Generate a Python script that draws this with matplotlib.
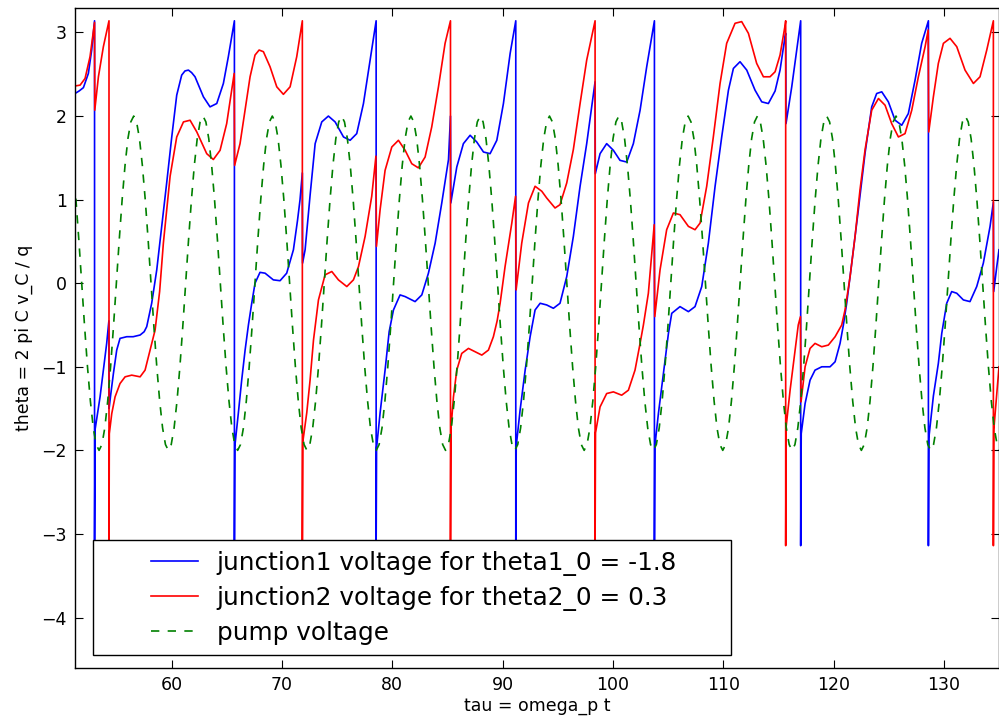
import numpy as np
import matplotlib
matplotlib.use("Agg")
import matplotlib.pyplot as plt
from matplotlib.legend_handler import HandlerLine2D

# junction 1 phase (wrapped to [-pi, pi])
tau1 = [51.23, 51.6, 51.99, 52.44, 52.74, 53.0, 53.0,
        53.05, 53.5, 53.8, 54.1, 54.3,
        54.32, 54.45, 54.71, 55.01, 55.31, 55.92, 56.5, 57.13, 57.5, 57.73, 58.18, 58.64,
        59.09, 59.54, 60.0, 60.45, 60.9, 61.2, 61.51, 61.8, 62.11, 62.87, 63.47, 64.08, 64.68, 65.13,
        65.68, 65.68,
        65.72, 66.04, 66.34, 66.65, 66.95, 67.25, 67.55, 68.0, 68.46, 69.21, 69.82, 70.42,
        71.03, 71.4, 71.63, 71.84,
        71.86, 72.09, 72.54, 73.0, 73.6, 74.2, 74.81, 75.57, 76.17, 76.77, 77.38, 77.98,
        78.53, 78.53,
        78.57, 78.89, 79.34, 79.71, 80.1, 80.7, 81.16, 82.06, 82.67, 83.27, 83.88, 84.48,
        85.09, 85.27,
        85.3, 85.84, 86.44, 87.05, 87.65, 88.26, 88.86, 89.47, 90.07, 90.68, 91.19, 91.19,
        91.23, 91.58, 92.04, 92.49, 92.94, 93.4, 93.99, 94.6, 95.2, 95.81, 96.41, 97.02,
        97.62, 98.23, 98.38,
        98.4, 98.83, 99.43, 100.04, 100.64, 101.25, 101.85, 102.46, 103.06, 103.76, 103.76,
        103.8, 104.12, 104.57, 105.03, 105.33, 106.08, 106.84, 107.44, 108.05, 108.65,
        109.26, 109.86, 110.47, 110.92, 111.52, 112.13, 112.88, 113.49, 114.09, 114.7,
        115.15, 115.6, 115.66,
        115.69, 116.21, 116.66, 117.02, 117.02,
        117.07, 117.42, 117.87, 118.32, 118.93, 119.68, 120.14, 120.59, 120.89, 121.19,
        121.65, 122.25, 122.86, 123.46, 123.91, 124.37, 124.97, 125.58, 126.18, 126.78,
        127.39, 127.99, 128.6, 128.6,
        128.64, 129.05, 129.5, 129.81, 130.26, 130.71, 131.17, 131.77, 132.37, 132.98,
        133.58, 134.19, 134.49,
        134.52, 134.8, 135.0]
theta1 = [2.27, 2.30, 2.34, 2.51, 2.79, 3.14, -3.14,
          -1.75, -1.36, -1.04, -0.72, -0.45,
          -1.5, -1.35, -1.08, -0.80, -0.66, -0.64, -0.64, -0.62, -0.58, -0.52, -0.24, 0.16,
          0.68, 1.20, 1.75, 2.25, 2.49, 2.54, 2.55, 2.52, 2.47, 2.23, 2.11, 2.15, 2.39, 2.71,
          3.14, -3.14,
          -1.95, -1.55, -1.16, -0.80, -0.50, -0.24, 0.0, 0.13, 0.12, 0.04, 0.03, 0.12,
          0.40, 0.75, 1.0, 1.32,
          0.24, 0.4, 1.05, 1.67, 1.93, 2.0, 1.93, 1.75, 1.71, 1.79, 2.15, 2.67,
          3.14, -3.14,
          -1.97, -1.55, -1.04, -0.58, -0.32, -0.14, -0.16, -0.22, -0.14, 0.12, 0.48, 0.96,
          1.48, 2.0,
          0.96, 1.39, 1.67, 1.77, 1.69, 1.57, 1.55, 1.71, 2.15, 2.75, 3.14, -3.14,
          -1.95, -1.52, -1.04, -0.64, -0.32, -0.24, -0.26, -0.30, -0.24, 0.08, 0.56, 1.16,
          1.67, 2.27, 2.41,
          1.31, 1.55, 1.67, 1.59, 1.47, 1.45, 1.67, 2.07, 2.59, 3.14, -3.14,
          -1.95, -1.56, -1.08, -0.6, -0.36, -0.28, -0.34, -0.28, -0.04, 0.48,
          1.16, 1.75, 2.31, 2.57, 2.65, 2.55, 2.31, 2.17, 2.15, 2.30,
          2.55, 2.95, 2.99,
          1.91, 2.35, 2.79, 3.14, -3.14,
          -1.8, -1.44, -1.16, -1.04, -1.0, -1.0, -0.94, -0.72, -0.5, -0.24,
          0.24, 0.88, 1.56, 2.11, 2.27, 2.29, 2.17, 1.95, 1.89, 2.03,
          2.43, 2.87, 3.14, -3.14,
          -1.85, -1.35, -0.96, -0.6, -0.24, -0.1, -0.12, -0.2, -0.22, -0.04,
          0.24, 0.68, 0.97,
          -0.1, 0.2, 0.4]

# junction 2 phase
tau2 = [51.23, 51.69, 52.14, 52.59, 52.96, 53.0,
        53.02, 53.35, 53.8, 54.31, 54.31,
        54.34, 54.56, 54.86, 55.31, 55.77, 56.37, 57.13, 57.58, 58.03, 58.49, 58.9, 59.24,
        59.85, 60.45, 61.06, 61.66, 62.27, 63.17, 63.77, 64.38, 64.98, 65.59, 65.66,
        65.70, 66.19, 66.65, 67.1, 67.55, 67.92, 68.31, 68.91, 69.52, 70.12, 70.73, 71.33,
        71.84, 71.84,
        71.88, 72.24, 72.54, 72.85, 73.3, 73.9, 74.51, 75.11, 75.87, 76.47, 76.93, 77.53,
        78.13, 78.51,
        78.56, 78.89, 79.34, 79.95, 80.55, 81.16, 81.76, 82.36, 82.97, 83.57, 84.18, 84.78,
        85.27, 85.27,
        85.31, 85.54, 85.84, 86.29, 86.9, 87.5, 88.11, 88.71, 89.16, 89.5, 89.77, 90.22,
        90.83, 91.17,
        91.22, 91.73, 92.34, 92.94, 93.55, 93.99, 94.75, 95.2, 95.81, 96.41, 97.02, 97.62,
        98.23, 98.38, 98.38,
        98.42, 98.83, 99.43, 100.04, 100.79, 101.4, 102.0, 102.46, 102.76, 103.21, 103.74,
        103.79, 104.27, 104.87, 105.48, 106.08, 106.84, 107.44, 107.9, 108.5, 109.1,
        109.71, 110.31, 111.07, 111.67, 112.28, 113.03, 113.64, 114.24, 114.7, 115.15,
        115.6, 115.66, 115.66,
        115.7, 116.06, 116.51, 116.8, 117.0,
        117.05, 117.42, 117.87, 118.32, 118.93, 119.53, 120.14, 120.74, 121.04, 121.5,
        121.95, 122.4, 122.86, 123.46, 124.07, 124.67, 125.27, 125.88, 126.48, 127.09,
        127.69, 128.3, 128.58,
        128.63, 129.05, 129.5, 129.96, 130.56, 131.17, 131.92, 132.68, 133.28, 133.89,
        134.49, 134.49,
        134.53, 135.0]
theta2 = [2.36, 2.37, 2.45, 2.71, 3.08, 3.12,
          2.07, 2.47, 2.83, 3.14, -3.14,
          -1.80, -1.56, -1.36, -1.20, -1.12, -1.10, -1.12, -1.04, -0.80, -0.56, -0.1, 0.48,
          1.28, 1.75, 1.93, 1.95, 1.81, 1.55, 1.48, 1.59, 1.91, 2.45, 2.51,
          1.41, 1.67, 2.07, 2.47, 2.73, 2.79, 2.77, 2.59, 2.35, 2.26, 2.35, 2.71,
          3.14, -3.14,
          -1.9, -1.55, -1.16, -0.68, -0.20, 0.10, 0.14, 0.04, -0.04, 0.04, 0.20, 0.56,
          1.04, 1.52,
          0.44, 0.88, 1.35, 1.63, 1.71, 1.59, 1.43, 1.38, 1.51, 1.87, 2.35, 2.87,
          3.14, -3.14,
          -1.75, -1.36, -1.04, -0.84, -0.78, -0.82, -0.86, -0.80, -0.64, -0.45, -0.24, 0.20,
          0.72, 1.04,
          -0.08, 0.48, 0.96, 1.16, 1.10, 1.02, 0.90, 0.94, 1.2, 1.6, 2.15, 2.67,
          3.05, 3.14, -3.14,
          -1.79, -1.48, -1.32, -1.30, -1.34, -1.28, -1.04, -0.72, -0.5, -0.12, 0.70,
          -0.40, 0.16, 0.64, 0.84, 0.82, 0.68, 0.64, 0.72, 1.16, 1.75,
          2.39, 2.87, 3.11, 3.13, 2.99, 2.63, 2.47, 2.47, 2.53, 2.73,
          3.08, 3.14, -3.14,
          -1.72, -1.28, -0.80, -0.5, -0.4,
          -1.42, -1.0, -0.78, -0.72, -0.76, -0.74, -0.64, -0.5, -0.32, 0.08,
          0.56, 1.12, 1.6, 2.07, 2.21, 2.13, 1.91, 1.75, 1.79, 2.07,
          2.47, 2.83, 3.03,
          1.81, 2.23, 2.63, 2.87, 2.93, 2.83, 2.55, 2.39, 2.47, 2.79,
          3.14, -3.14,
          -1.75, -1.0]

# pump voltage, sampled on a regular grid across the window
pump_tau = np.linspace(51.051, 135.088, 322)
pump = [1.41, 1.0, 0.52, 0.0, -0.52, -1.0, -1.41, -1.73, -1.93, -2.0, -1.93, -1.73, -1.41, -1.0, -0.52, 0.0, 0.52, 1.0, 1.41, 1.73, 1.93, 2.0, 1.93, 1.73,
        1.41, 1.0, 0.52, 0.0, -0.52, -1.0, -1.41, -1.73, -1.93, -2.0, -1.93, -1.73, -1.41, -1.0, -0.52, 0.0, 0.52, 1.0, 1.41, 1.73, 1.93, 2.0, 1.93, 1.73,
        1.41, 1.0, 0.52, 0.0, -0.52, -1.0, -1.41, -1.73, -1.93, -2.0, -1.93, -1.73, -1.41, -1.0, -0.52, 0.0, 0.52, 1.0, 1.41, 1.73, 1.93, 2.0, 1.93, 1.73,
        1.41, 1.0, 0.52, 0.0, -0.52, -1.0, -1.41, -1.73, -1.93, -2.0, -1.93, -1.73, -1.41, -1.0, -0.52, 0.0, 0.52, 1.0, 1.41, 1.73, 1.93, 2.0, 1.93, 1.73,
        1.41, 1.0, 0.52, 0.0, -0.52, -1.0, -1.41, -1.73, -1.93, -2.0, -1.93, -1.73, -1.41, -1.0, -0.52, 0.0, 0.52, 1.0, 1.41, 1.73, 1.93, 2.0, 1.93, 1.73,
        1.41, 1.0, 0.52, 0.0, -0.52, -1.0, -1.41, -1.73, -1.93, -2.0, -1.93, -1.73, -1.41, -1.0, -0.52, 0.0, 0.52, 1.0, 1.41, 1.73, 1.93, 2.0, 1.93, 1.73,
        1.41, 1.0, 0.52, 0.0, -0.52, -1.0, -1.41, -1.73, -1.93, -2.0, -1.93, -1.73, -1.41, -1.0, -0.52, 0.0, 0.52, 1.0, 1.41, 1.73, 1.93, 2.0, 1.93, 1.73,
        1.41, 1.0, 0.52, 0.0, -0.52, -1.0, -1.41, -1.73, -1.93, -2.0, -1.93, -1.73, -1.41, -1.0, -0.52, 0.0, 0.52, 1.0, 1.41, 1.73, 1.93, 2.0, 1.93, 1.73,
        1.41, 1.0, 0.52, 0.0, -0.52, -1.0, -1.41, -1.73, -1.93, -2.0, -1.93, -1.73, -1.41, -1.0, -0.52, 0.0, 0.52, 1.0, 1.41, 1.73, 1.93, 2.0, 1.93, 1.73,
        1.41, 1.0, 0.52, 0.0, -0.52, -1.0, -1.41, -1.73, -1.93, -2.0, -1.93, -1.73, -1.41, -1.0, -0.52, 0.0, 0.52, 1.0, 1.41, 1.73, 1.93, 2.0, 1.93, 1.73,
        1.41, 1.0, 0.52, 0.0, -0.52, -1.0, -1.41, -1.73, -1.93, -2.0, -1.93, -1.73, -1.41, -1.0, -0.52, 0.0, 0.52, 1.0, 1.41, 1.73, 1.93, 2.0, 1.93, 1.73,
        1.41, 1.0, 0.52, 0.0, -0.52, -1.0, -1.41, -1.73, -1.93, -2.0, -1.93, -1.73, -1.41, -1.0, -0.52, 0.0, 0.52, 1.0, 1.41, 1.73, 1.93, 2.0, 1.93, 1.73,
        1.41, 1.0, 0.52, 0.0, -0.52, -1.0, -1.41, -1.73, -1.93, -2.0, -1.93, -1.73, -1.41, -1.0, -0.52, 0.0, 0.52, 1.0, 1.41, 1.73, 1.93, 2.0, 1.93, 1.73,
        1.41, 1.0, 0.52, 0.0, -0.52, -1.0, -1.41, -1.73, -1.93, -2.0]

labels = ['junction1 voltage for theta1_0 = -1.8',
          'junction2 voltage for theta2_0 = 0.3',
          'pump voltage']


class ShortLine(HandlerLine2D):
    # legend line sits in the right half of the handle box, like the old legend
    def get_xdata(self, legend, xdescent, ydescent, width, height, fontsize):
        xd = np.array([-xdescent + 0.5 * width, -xdescent + width])
        return xd, xd


fig = plt.figure(figsize=(9.99, 7.17), dpi=100)
ax = fig.add_axes([0.0751, 0.0688, 0.9249, 0.9197])

ax.plot(tau1, theta1, color='b', lw=1.2, label=labels[0])
ax.plot(tau2, theta2, color='r', lw=1.2, label=labels[1])
ax.plot(pump_tau, pump, color='g', lw=1.2, dashes=(5, 5), label=labels[2])

ax.set_xlim(51.23, 135.0)
ax.set_ylim(-4.6, 3.29)
ax.set_xticks([60, 70, 80, 90, 100, 110, 120, 130])
ax.set_yticks([-4, -3, -2, -1, 0, 1, 2, 3])
ax.tick_params(direction='in', top=True, right=True, length=6, width=0.8, labelsize=12.5, pad=6)
for s in ax.spines.values():
    s.set_linewidth(1.0)

ax.set_xlabel('tau = omega_p t', fontsize=12.5, labelpad=2)
ax.set_ylabel('theta = 2 pi C v_C / q', fontsize=12.5, labelpad=6)

# box stretched to the old legend's width, content kept on the left
leg = ax.legend(loc='lower left', bbox_to_anchor=(0.0198, 0.0193, 0.690, 0.2), mode='expand',
                borderaxespad=0, fontsize=17.8, handlelength=3.83, handletextpad=0.74,
                labelspacing=0.4, borderpad=0.42, fancybox=False,
                handler_map={plt.Line2D: ShortLine()})
leg.get_frame().set_edgecolor('black')
leg.get_frame().set_linewidth(1.0)
leg.get_frame().set_alpha(1.0)

fig.savefig('out.png', dpi=100)
